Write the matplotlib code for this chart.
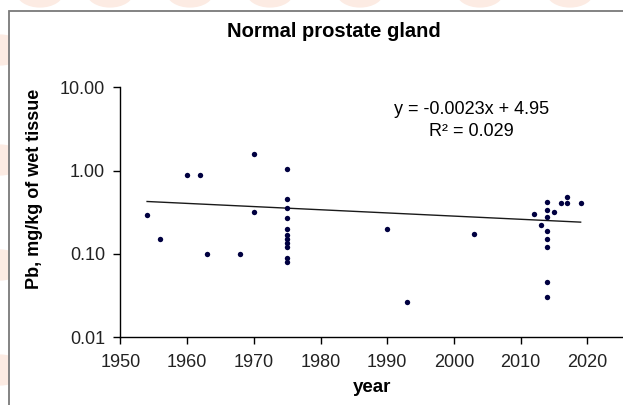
import matplotlib.pyplot as plt
from matplotlib.patches import Rectangle, Circle
import numpy as np

plt.rcParams['font.family'] = ['Liberation Sans', 'DejaVu Sans']

# values
years_1950s_60s = [1954, 1956, 1960, 1962, 1963, 1968, 1970, 1970]
pb_1950s_60s = [0.29, 0.15, 0.89, 0.89, 0.10, 0.10, 1.58, 0.32]

years_1975 = [1975] * 11
pb_1975 = [1.04, 0.46, 0.35, 0.27, 0.20, 0.17, 0.15, 0.135, 0.12, 0.09, 0.08]

years_late = [1990, 1993, 2003, 2012, 2013]
pb_late = [0.20, 0.026, 0.175, 0.30, 0.22]

years_2014 = [2014] * 8
pb_2014 = [0.42, 0.34, 0.28, 0.19, 0.15, 0.12, 0.046, 0.030]

years_recent = [2015, 2016, 2017, 2017, 2019]
pb_recent = [0.32, 0.41, 0.48, 0.41, 0.41]

year = np.array(years_1950s_60s + years_1975 + years_late + years_2014 + years_recent, dtype=float)
pb = np.array(pb_1950s_60s + pb_1975 + pb_late + pb_2014 + pb_recent)

y_ticks = [0.01, 0.1, 1, 10]
y_tick_labels = ['0.01', '0.10', '1.00', '10.00']
x_ticks = [1950, 1960, 1970, 1980, 1990, 2000, 2010, 2020]

W, H = 623, 405
fig = plt.figure(figsize=(W / 100, H / 100), dpi=100)

# faint page background blobs behind the chart frame
for cx, cy in [(0, 50), (0, 160), (0, 265), (0, 370), (40, -8), (110, -8), (190, -8), (270, -8), (360, -8), (480, -8), (570, -8)]:
    fig.patches.append(Circle((cx / W, 1 - cy / H), 24 / W, transform=fig.transFigure,
                              facecolor='#fcebe3', edgecolor='none', zorder=0))

# chart frame (cropped on right and bottom)
fig.patches.append(Rectangle((8.5 / W, -0.2), 2, 1.2 - 11 / H, transform=fig.transFigure,
                             facecolor='white', edgecolor='#7a7a7a', lw=1.3, zorder=1))

ax = fig.add_axes([120.4 / W, 1 - 337 / H, (622 - 120.4) / W, (337 - 87.3) / H])
ax.set_zorder(2)
ax.patch.set_alpha(0)

ax.scatter(year, pb, s=15, color='#000040', zorder=3, linewidths=0)

# linear trend line over the data span
coef = np.polyfit(year, pb, 1)
xs = np.array([year.min(), year.max()])
ax.plot(xs, np.polyval(coef, xs), color='#1a1a1a', lw=1.0, zorder=2)

ax.set_yscale('log')
ax.set_ylim(0.01, 10)
ax.set_xlim(1950, 2025.2)
ax.set_yticks(y_ticks)
ax.set_yticklabels(y_tick_labels)
ax.yaxis.set_minor_locator(plt.NullLocator())
ax.set_xticks(x_ticks)

for s in ['top', 'right']:
    ax.spines[s].set_visible(False)
for s in ['left', 'bottom']:
    ax.spines[s].set_color('black')
    ax.spines[s].set_linewidth(1.0)
ax.tick_params(axis='both', direction='out', length=5, width=1.0, labelsize=13,
               labelcolor='#222222')
ax.tick_params(axis='y', pad=6)
ax.tick_params(axis='x', pad=7)

fig.text(334 / W, 1 - 31.7 / H, 'Normal prostate gland', ha='center', va='center',
         fontsize=14.5, fontweight='bold')
fig.text(472 / W, 1 - 110 / H, 'y = -0.0023x + 4.95', ha='center', va='center', fontsize=13)
fig.text(471 / W, 1 - 131.7 / H, 'R\u00b2 = 0.029', ha='center', va='center', fontsize=13)
fig.text(35 / W, 1 - 189 / H, 'Pb, mg/kg of wet tissue', ha='center', va='center',
         rotation=90, fontsize=13, fontweight='bold')
fig.text(372 / W, 1 - 388 / H, 'year', ha='center', va='center', fontsize=13.5, fontweight='bold')

fig.savefig('out.png', dpi=100)
